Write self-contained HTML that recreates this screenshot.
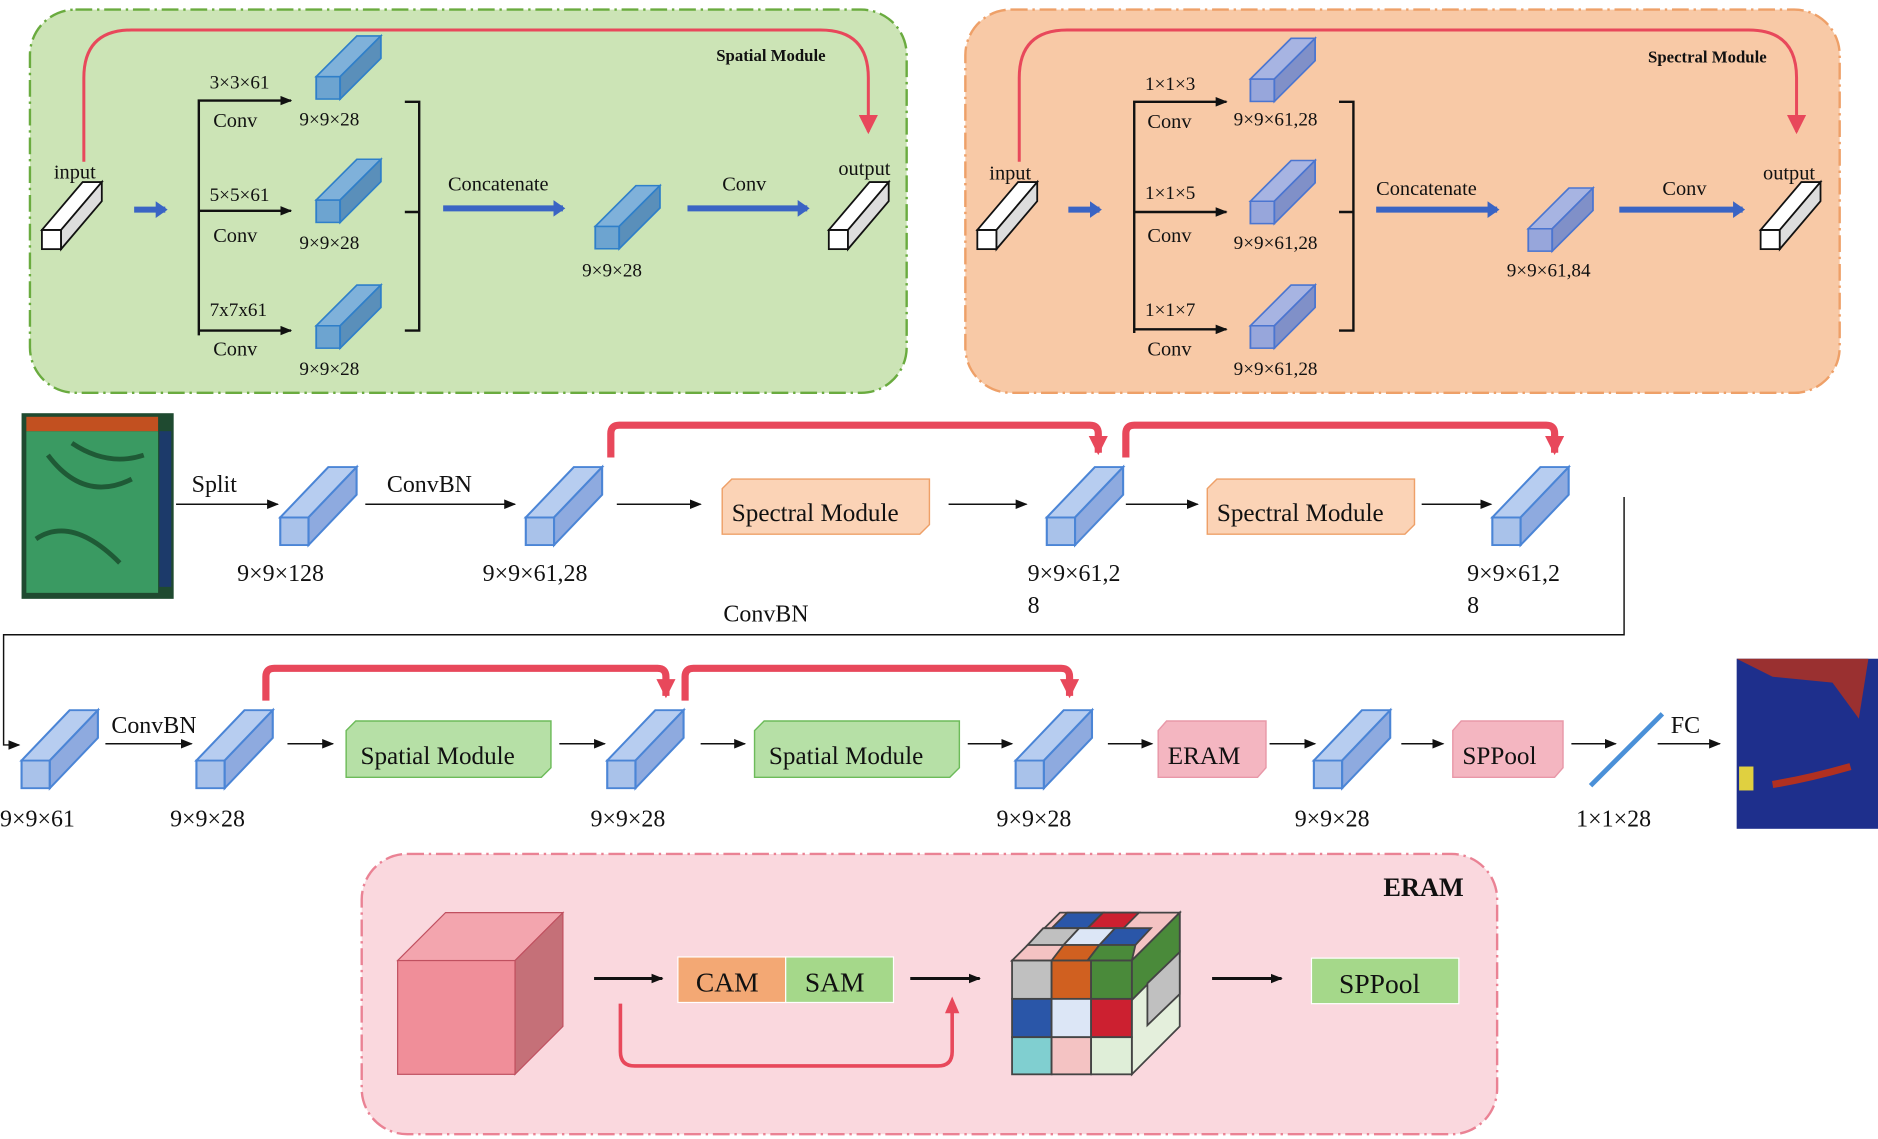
<!DOCTYPE html>
<html><head><meta charset="utf-8"><style>html,body{margin:0;padding:0;background:#fff}svg{display:block}text{font-family:"Liberation Serif",serif;fill:#111}</style></head>
<body>
<svg width="1878" height="1139" viewBox="0 0 1568 951" preserveAspectRatio="none" xmlns="http://www.w3.org/2000/svg">
<defs>
<g id="bc"><rect x="0" y="40" width="20" height="22" fill="#a9c2ea" stroke="#4b85d6" stroke-width="1.5"/><polygon points="0,40 34,0 54,0 20,40" fill="#b7cdf0" stroke="#4b85d6" stroke-width="1.5"/><polygon points="20,40 54,0 54,22 20,62" fill="#8eaadf" stroke="#4b85d6" stroke-width="1.5"/></g>
<g id="sc"><rect x="0" y="40" width="20" height="22" fill="#6da4d0" stroke="#2f7fc9" stroke-width="1.5"/><polygon points="0,40 34,0 54,0 20,40" fill="#7fb1da" stroke="#2f7fc9" stroke-width="1.5"/><polygon points="20,40 54,0 54,22 20,62" fill="#5a8fba" stroke="#2f7fc9" stroke-width="1.5"/></g>
<g id="pc"><rect x="0" y="40" width="20" height="22" fill="#97a6db" stroke="#4b75d0" stroke-width="1.5"/><polygon points="0,40 34,0 54,0 20,40" fill="#a7b4e2" stroke="#4b75d0" stroke-width="1.5"/><polygon points="20,40 54,0 54,22 20,62" fill="#8090c8" stroke="#4b75d0" stroke-width="1.5"/></g>
<g id="wc"><rect x="0" y="40" width="16" height="16" fill="#fff" stroke="#111" stroke-width="1.5"/><polygon points="0,40 34,0 50,0 16,40" fill="#fff" stroke="#111" stroke-width="1.5"/><polygon points="16,40 50,0 50,16 16,56" fill="#ddd" stroke="#111" stroke-width="1.5"/></g>
<marker id="ab" markerWidth="10" markerHeight="8" refX="9" refY="4" orient="auto" markerUnits="userSpaceOnUse"><path d="M0,0 L10,4 L0,8 Z" fill="#111"/></marker>
<marker id="ar" markerWidth="16" markerHeight="16" refX="8" refY="14" orient="0" markerUnits="userSpaceOnUse"><path d="M0,0 L16,0 L8,16 Z" fill="#e8485b"/></marker>
<marker id="abl" markerWidth="10" markerHeight="14" refX="8" refY="7" orient="auto" markerUnits="userSpaceOnUse"><path d="M0,0 L10,7 L0,14 Z" fill="#3a64c4"/></marker>
</defs>

<!-- Spatial module box -->
<rect x="25" y="8" width="732" height="320" rx="38" fill="#cce4b6" stroke="#6aab3f" stroke-width="2" stroke-dasharray="14,4,2,4"/>
<path d="M70,135 V65 Q70,25 110,25 H685 Q725,25 725,65 V110" fill="none" stroke="#e8485b" stroke-width="2.5" marker-end="url(#ar)"/>
<text x="598" y="51" font-size="14" font-weight="bold">Spatial Module</text>
<text x="45" y="149" font-size="17">input</text>
<use href="#wc" x="35" y="152"/>
<line x1="112" y1="175" x2="138" y2="175" stroke="#3a64c4" stroke-width="5" marker-end="url(#abl)"/>
<path d="M166,280 V84 H243" fill="none" stroke="#111" stroke-width="2" marker-end="url(#ab)"/>
<line x1="166" y1="176" x2="243" y2="176" stroke="#111" stroke-width="2" marker-end="url(#ab)"/>
<line x1="166" y1="276" x2="243" y2="276" stroke="#111" stroke-width="2" marker-end="url(#ab)"/>
<text x="175" y="74" font-size="16">3×3×61</text><text x="178" y="106" font-size="17">Conv</text>
<text x="175" y="168" font-size="16">5×5×61</text><text x="178" y="202" font-size="17">Conv</text>
<text x="175" y="264" font-size="16">7x7x61</text><text x="178" y="297" font-size="17">Conv</text>
<g transform="translate(264,30) scale(1,0.85)"><use href="#sc"/></g>
<g transform="translate(264,133) scale(1,0.85)"><use href="#sc"/></g>
<g transform="translate(264,238) scale(1,0.85)"><use href="#sc"/></g>
<text x="250" y="105" font-size="16">9×9×28</text><text x="250" y="208" font-size="16">9×9×28</text><text x="250" y="313" font-size="16">9×9×28</text>
<path d="M338,85 H350 V276 H338 M338,177 H350" fill="none" stroke="#111" stroke-width="2"/>
<text x="374" y="159" font-size="17">Concatenate</text>
<line x1="370" y1="174" x2="470" y2="174" stroke="#3a64c4" stroke-width="5" marker-end="url(#abl)"/>
<g transform="translate(497,155) scale(1,0.85)"><use href="#sc"/></g>
<text x="486" y="231" font-size="16">9×9×28</text>
<text x="603" y="159" font-size="17">Conv</text>
<line x1="574" y1="174" x2="674" y2="174" stroke="#3a64c4" stroke-width="5" marker-end="url(#abl)"/>
<text x="700" y="146" font-size="17">output</text>
<use href="#wc" x="692" y="152"/>

<!-- Spectral module box -->
<rect x="806" y="8" width="730" height="320" rx="38" fill="#f8c9a6" stroke="#eea068" stroke-width="2" stroke-dasharray="14,4,2,4"/>
<path d="M851,135 V65 Q851,25 891,25 H1460 Q1500,25 1500,65 V110" fill="none" stroke="#e8485b" stroke-width="2.5" marker-end="url(#ar)"/>
<text x="1376" y="52" font-size="14" font-weight="bold">Spectral Module</text>
<text x="826" y="150" font-size="17">input</text>
<use href="#wc" x="816" y="152"/>
<line x1="892" y1="175" x2="918" y2="175" stroke="#3a64c4" stroke-width="5" marker-end="url(#abl)"/>
<path d="M947,278 V85 H1024" fill="none" stroke="#111" stroke-width="2" marker-end="url(#ab)"/>
<line x1="947" y1="177" x2="1024" y2="177" stroke="#111" stroke-width="2" marker-end="url(#ab)"/>
<line x1="947" y1="275" x2="1024" y2="275" stroke="#111" stroke-width="2" marker-end="url(#ab)"/>
<text x="956" y="75" font-size="16">1×1×3</text><text x="958" y="107" font-size="17">Conv</text>
<text x="956" y="166" font-size="16">1×1×5</text><text x="958" y="202" font-size="17">Conv</text>
<text x="956" y="264" font-size="16">1×1×7</text><text x="958" y="297" font-size="17">Conv</text>
<g transform="translate(1044,32) scale(1,0.85)"><use href="#pc"/></g>
<g transform="translate(1044,134) scale(1,0.85)"><use href="#pc"/></g>
<g transform="translate(1044,238) scale(1,0.85)"><use href="#pc"/></g>
<text x="1030" y="105" font-size="16">9×9×61,28</text><text x="1030" y="208" font-size="16">9×9×61,28</text><text x="1030" y="313" font-size="16">9×9×61,28</text>
<path d="M1118,85 H1130 V276 H1118 M1118,177 H1130" fill="none" stroke="#111" stroke-width="2"/>
<text x="1149" y="163" font-size="17">Concatenate</text>
<line x1="1149" y1="175" x2="1250" y2="175" stroke="#3a64c4" stroke-width="5" marker-end="url(#abl)"/>
<g transform="translate(1276,157) scale(1,0.85)"><use href="#pc"/></g>
<text x="1258" y="231" font-size="16">9×9×61,84</text>
<text x="1388" y="163" font-size="17">Conv</text>
<line x1="1352" y1="175" x2="1455" y2="175" stroke="#3a64c4" stroke-width="5" marker-end="url(#abl)"/>
<text x="1472" y="150" font-size="17">output</text>
<use href="#wc" x="1470" y="152"/>

<!-- Row 2 -->
<rect x="18" y="345" width="127" height="155" fill="#1f4a30"/>
<rect x="22" y="360" width="110" height="135" fill="#3a9a62"/>
<path d="M40,380 Q70,420 110,400 M30,450 Q60,430 100,470 M60,370 Q90,390 120,380" stroke="#1f5a36" stroke-width="4" fill="none"/>
<rect x="22" y="348" width="110" height="12" fill="#c25020"/>
<rect x="133" y="360" width="10" height="130" fill="#1c3a6a"/>
<line x1="147" y1="421" x2="232" y2="421" stroke="#111" stroke-width="1.2" marker-end="url(#ab)"/>
<text x="160" y="411" font-size="20">Split</text>
<g transform="translate(234,390) scale(1.18,1.05)"><use href="#bc"/></g>
<text x="198" y="485" font-size="20">9×9×128</text>
<line x1="305" y1="421" x2="430" y2="421" stroke="#111" stroke-width="1.2" marker-end="url(#ab)"/>
<text x="323" y="411" font-size="20">ConvBN</text>
<g transform="translate(439,390) scale(1.18,1.05)"><use href="#bc"/></g>
<text x="403" y="485" font-size="20">9×9×61,28</text>
<line x1="515" y1="421" x2="585" y2="421" stroke="#111" stroke-width="1.2" marker-end="url(#ab)"/>
<polygon points="603,408 611,400 776,400 776,438 768,446 603,446" fill="#fbd3b6" stroke="#eea068" stroke-width="1.2"/>
<text x="611" y="435" font-size="21">Spectral Module</text>
<line x1="792" y1="421" x2="857" y2="421" stroke="#111" stroke-width="1.2" marker-end="url(#ab)"/>
<g transform="translate(874,390) scale(1.18,1.05)"><use href="#bc"/></g>
<text x="858" y="485" font-size="20">9×9×61,2</text><text x="858" y="512" font-size="20">8</text>
<line x1="940" y1="421" x2="1000" y2="421" stroke="#111" stroke-width="1.2" marker-end="url(#ab)"/>
<polygon points="1008,408 1016,400 1181,400 1181,438 1173,446 1008,446" fill="#fbd3b6" stroke="#eea068" stroke-width="1.2"/>
<text x="1016" y="435" font-size="21">Spectral Module</text>
<line x1="1187" y1="421" x2="1245" y2="421" stroke="#111" stroke-width="1.2" marker-end="url(#ab)"/>
<g transform="translate(1246,390) scale(1.18,1.05)"><use href="#bc"/></g>
<text x="1225" y="485" font-size="20">9×9×61,2</text><text x="1225" y="512" font-size="20">8</text>
<path d="M510,382 V362 Q510,355 517,355 H910 Q917,355 917,362 V378" fill="none" stroke="#e8485b" stroke-width="6" marker-end="url(#ar)"/>
<path d="M940,382 V362 Q940,355 947,355 H1291 Q1298,355 1298,362 V378" fill="none" stroke="#e8485b" stroke-width="6" marker-end="url(#ar)"/>
<path d="M1356,415 V530 H3 V622 H16" fill="none" stroke="#111" stroke-width="1.2" marker-end="url(#ab)"/>
<text x="604" y="519" font-size="20">ConvBN</text>

<!-- Row 3 -->
<g transform="translate(18,593) scale(1.18,1.05)"><use href="#bc"/></g>
<text x="0" y="690" font-size="20">9×9×61</text>
<line x1="88" y1="621" x2="160" y2="621" stroke="#111" stroke-width="1.2" marker-end="url(#ab)"/>
<text x="93" y="612" font-size="20">ConvBN</text>
<g transform="translate(164,593) scale(1.18,1.05)"><use href="#bc"/></g>
<text x="142" y="690" font-size="20">9×9×28</text>
<line x1="240" y1="621" x2="278" y2="621" stroke="#111" stroke-width="1.2" marker-end="url(#ab)"/>
<polygon points="289,610 297,602 460,602 460,641 452,649 289,649" fill="#b6e0a6" stroke="#6dbb5a" stroke-width="1.2"/>
<text x="301" y="638" font-size="21">Spatial Module</text>
<line x1="467" y1="621" x2="505" y2="621" stroke="#111" stroke-width="1.2" marker-end="url(#ab)"/>
<g transform="translate(507,593) scale(1.18,1.05)"><use href="#bc"/></g>
<text x="493" y="690" font-size="20">9×9×28</text>
<line x1="585" y1="621" x2="622" y2="621" stroke="#111" stroke-width="1.2" marker-end="url(#ab)"/>
<polygon points="630,610 638,602 801,602 801,641 793,649 630,649" fill="#b6e0a6" stroke="#6dbb5a" stroke-width="1.2"/>
<text x="642" y="638" font-size="21">Spatial Module</text>
<line x1="808" y1="621" x2="845" y2="621" stroke="#111" stroke-width="1.2" marker-end="url(#ab)"/>
<g transform="translate(848,593) scale(1.18,1.05)"><use href="#bc"/></g>
<text x="832" y="690" font-size="20">9×9×28</text>
<line x1="925" y1="621" x2="962" y2="621" stroke="#111" stroke-width="1.2" marker-end="url(#ab)"/>
<polygon points="967,610 974,602 1057,602 1057,641 1050,649 967,649" fill="#f4b6c1" stroke="#e898a8" stroke-width="1.2"/>
<text x="975" y="638" font-size="21">ERAM</text>
<line x1="1060" y1="621" x2="1098" y2="621" stroke="#111" stroke-width="1.2" marker-end="url(#ab)"/>
<g transform="translate(1097,593) scale(1.18,1.05)"><use href="#bc"/></g>
<text x="1081" y="690" font-size="20">9×9×28</text>
<line x1="1170" y1="621" x2="1205" y2="621" stroke="#111" stroke-width="1.2" marker-end="url(#ab)"/>
<polygon points="1213,610 1220,602 1305,602 1305,641 1298,649 1213,649" fill="#f4b6c1" stroke="#e898a8" stroke-width="1.2"/>
<text x="1221" y="638" font-size="21">SPPool</text>
<line x1="1312" y1="621" x2="1349" y2="621" stroke="#111" stroke-width="1.2" marker-end="url(#ab)"/>
<line x1="1328" y1="656" x2="1388" y2="596" stroke="#4a90d8" stroke-width="4"/>
<text x="1316" y="690" font-size="20">1×1×28</text>
<text x="1395" y="612" font-size="20">FC</text>
<line x1="1384" y1="621" x2="1436" y2="621" stroke="#111" stroke-width="1.2" marker-end="url(#ab)"/>
<rect x="1450" y="550" width="118" height="142" fill="#1e2f8c"/>
<path d="M1450,550 H1560 L1552,600 L1530,570 L1480,565 Z" fill="#b03020" opacity=".85"/>
<path d="M1480,655 Q1510,650 1545,640" stroke="#b03020" stroke-width="6" fill="none"/>
<rect x="1452" y="640" width="12" height="20" fill="#e0d040"/>
<path d="M222,585 V565 Q222,558 229,558 H549 Q556,558 556,565 V581" fill="none" stroke="#e8485b" stroke-width="6" marker-end="url(#ar)"/>
<path d="M572,585 V565 Q572,558 579,558 H886 Q893,558 893,565 V581" fill="none" stroke="#e8485b" stroke-width="6" marker-end="url(#ar)"/>

<!-- ERAM box -->
<rect x="302" y="713" width="948" height="234" rx="38" fill="#fad8de" stroke="#ea8294" stroke-width="2" stroke-dasharray="14,4,2,4"/>
<text x="1155" y="748" font-size="22" font-weight="bold">ERAM</text>
<polygon points="332,802 372,762 470,762 430,802" fill="#f3a5ae" stroke="#c05060"/>
<polygon points="430,802 470,762 470,857 430,897" fill="#c57078" stroke="#c05060"/>
<rect x="332" y="802" width="98" height="95" fill="#f08e99" stroke="#c05060"/>
<line x1="496" y1="817" x2="553" y2="817" stroke="#111" stroke-width="2.5" marker-end="url(#ab)"/>
<rect x="566" y="799" width="90" height="38" fill="#f3a874" stroke="#fff"/>
<rect x="656" y="799" width="90" height="38" fill="#a5d88a" stroke="#fff"/>
<text x="581" y="828" font-size="23">CAM</text><text x="672" y="828" font-size="23">SAM</text>
<line x1="760" y1="817" x2="818" y2="817" stroke="#111" stroke-width="2.5" marker-end="url(#ab)"/>
<path d="M518,838 V878 Q518,890 530,890 H783 Q795,890 795,878 V838" fill="none" stroke="#e8485b" stroke-width="3"/>
<path d="M789,846 L795,832 L801,846 Z" fill="#e8485b"/>
<g stroke="#444" stroke-width="1.5">
<polygon points="845,802 885,762 985,762 945,802" fill="#f4c3c3"/>
<polygon points="878,775 891,762 921,762 908,775" fill="#2a56a8"/>
<polygon points="908,775 921,762 951,762 938,775" fill="#cc2030"/>
<polygon points="858,789 871,775 901,775 888,789" fill="#c0c0c0"/>
<polygon points="888,789 901,775 931,775 918,789" fill="#dce6f6"/>
<polygon points="918,789 931,775 961,775 948,789" fill="#2a56a8"/>
<polygon points="878,802 888,789 918,789 908,802" fill="#d06020"/>
<polygon points="908,802 918,789 948,789 945,802" fill="#4a8a3a"/>
<polygon points="945,802 985,762 985,857 945,897" fill="#e4efdc"/>
<polygon points="945,835 985,795 985,762 945,802" fill="#4a8a3a"/>
<polygon points="958,821 985,795 985,830 958,856" fill="#c0c0c0"/>
<rect x="845" y="802" width="33" height="32" fill="#c0c0c0"/><rect x="878" y="802" width="33" height="32" fill="#d06020"/><rect x="911" y="802" width="34" height="32" fill="#4a8a3a"/>
<rect x="845" y="834" width="33" height="32" fill="#2a56a8"/><rect x="878" y="834" width="33" height="32" fill="#dce6f6"/><rect x="911" y="834" width="34" height="32" fill="#cc2030"/>
<rect x="845" y="866" width="33" height="31" fill="#80cfd0"/><rect x="878" y="866" width="33" height="31" fill="#f4c3c3"/><rect x="911" y="866" width="34" height="31" fill="#dfeed8"/>
</g>
<line x1="1012" y1="817" x2="1070" y2="817" stroke="#111" stroke-width="2.5" marker-end="url(#ab)"/>
<rect x="1095" y="800" width="123" height="38" fill="#a5d88a" stroke="#fff"/>
<text x="1118" y="829" font-size="23">SPPool</text>
</svg>
</body></html>
